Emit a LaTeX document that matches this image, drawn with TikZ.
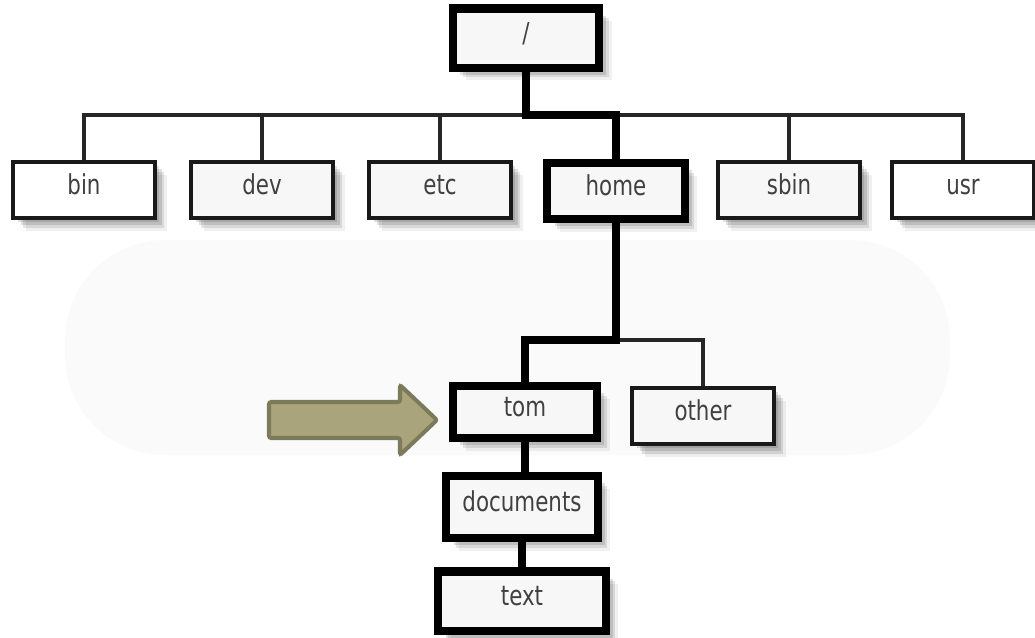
\documentclass[tikz,border=0pt]{standalone}
\usepackage{fontspec}
\newfontfamily\dirfont[FakeStretch=0.78]{DejaVu Sans}
\usetikzlibrary{positioning}
\definecolor{pointerfill}{HTML}{A9A47C}
\definecolor{pointerdraw}{HTML}{7B7A5A}

\tikzset{
  softshadow/.style={
    preaction={fill=black, opacity=0.12, transform canvas={xshift=3pt, yshift=-3pt}},
    preaction={fill=black, opacity=0.12, transform canvas={xshift=5pt, yshift=-5pt}},
    preaction={fill=black, opacity=0.10, transform canvas={xshift=7pt, yshift=-7pt}},
    preaction={fill=black, opacity=0.06, transform canvas={xshift=9pt, yshift=-9pt}}},
  dirbox/.style={softshadow, draw=black!90, line width=2.85pt, fill=black!3, text=black!75,
    font=\dirfont\fontsize{19.5}{22}\selectfont, inner sep=0pt,
    text height=0.75em, text depth=0.1em,
    minimum width=3.525cm, minimum height=1.4cm},
  pathbox/.style={dirbox, draw=black, line width=5.7pt},
  link/.style={draw=black!85, line width=2.85pt},
  pathlink/.style={draw=black, line width=5.7pt},
}

\begin{document}
\begin{tikzpicture}[x=0.025cm, y=-0.025cm]
    \useasboundingbox (0,0) rectangle (1035,638);
    % shaded band behind the home branch
    \fill[black!2, rounded corners=2.5cm] (65,240) rectangle (950,455);

    \node[pathbox, minimum width=3.65cm, minimum height=1.475cm] (root) at (526,38) {/};

    % first level
    \node[dirbox, fill=white] (bin) at (84,190) {bin};
    \node[dirbox] (dev) at (262,190) {dev};
    \node[dirbox] (etc) at (440,190) {etc};
    \node[pathbox, minimum width=3.425cm] (home) at (616,191) {home};
    \node[dirbox] (sbin) at (789,190) {sbin};
    \node[dirbox, fill=white] (usr) at (963,190) {usr};

    % below home
    \node[pathbox, minimum width=3.6cm, minimum height=1.3cm] (tom) at (525,412) {tom};
    \node[dirbox] (other) at (703,416) {other};
    \node[pathbox, minimum width=3.775cm, minimum height=1.55cm] (documents) at (522,507) {documents};
    \node[pathbox, minimum width=4.175cm, minimum height=1.475cm] (text) at (522,601) {text};

    \coordinate (rootjoint) at (526,115);
    \coordinate (homejoint) at (616,340);

    % connectors
    \draw[link] (bin.north) |- (rootjoint) -| (usr.north);
    \foreach \dir in {dev,etc,sbin}
        \draw[link] (\dir.north) -- (\dir.north |- rootjoint);
    \draw[link] (homejoint) -| (other.north);
    \draw[pathlink] (root.south) -- (rootjoint) -| (home.north);
    \draw[pathlink] (home.south) -- (homejoint) -| (tom.north);
    \draw[pathlink] (tom.south) -- (tom.south |- documents.north);
    \draw[pathlink] (documents.south) -- (documents.south |- text.north);

    % pointer
    \draw[pointerdraw, fill=pointerfill, line width=2.85pt, rounded corners=1.5pt]
        (269,402) -- (400,402) -- (400,385) -- (437,420) -- (400,455) -- (400,438) -- (269,438) -- cycle;
\end{tikzpicture}
\end{document}
